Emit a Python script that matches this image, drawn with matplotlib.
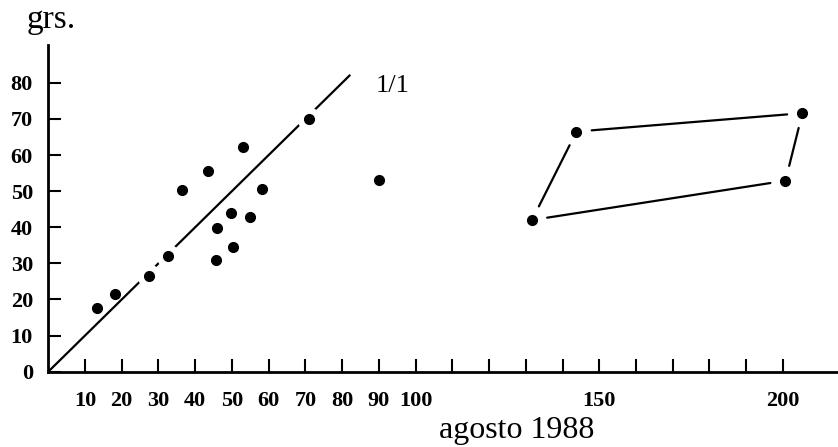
import numpy as np
import matplotlib.pyplot as plt

plt.rcParams['font.family'] = ['Liberation Serif', 'DejaVu Serif']

# individual weights (grs.) read against the August 1988 values
pair_x = [13.4, 18.2, 27.5, 32.5, 36.5, 43.4, 53.0, 71.1, 90.1,
          58.2, 49.8, 55.0, 45.9, 50.2, 45.6]
pair_y = [17.5, 21.4, 26.5, 32.1, 50.3, 55.7, 62.3, 70.1, 53.1,
          50.7, 43.9, 42.9, 39.7, 34.6, 30.9]

# closed group on the right, joined in this order
loop_x = [131.7, 143.8, 205.3, 200.7]
loop_y = [42.0, 66.5, 71.6, 52.9]

x_ticks = list(range(10, 201, 10))
x_labeled = list(range(10, 101, 10)) + [150, 200]
y_ticks = list(range(0, 81, 10))
line_end = 82

fig = plt.figure(figsize=(8.38, 4.47), dpi=100)
ax = fig.add_axes([0.0576, 0.1685, 0.9424, 0.731])
ax.set_xlim(0, 215)
ax.set_ylim(0, 90.5)

for side in ('top', 'right'):
    ax.spines[side].set_visible(False)
for side in ('left', 'bottom'):
    ax.spines[side].set_linewidth(2)

ax.set_xticks(x_ticks)
ax.set_xticklabels([str(v) if v in x_labeled else '' for v in x_ticks])
ax.set_yticks(y_ticks)
ax.set_yticklabels([str(v) for v in y_ticks])
ax.tick_params(direction='in', length=9.5, width=1.5, labelsize=16)
ax.tick_params(axis='x', pad=14)
ax.tick_params(axis='y', pad=11)
for lbl in ax.get_xticklabels() + ax.get_yticklabels():
    lbl.set_fontweight('bold')

# 1/1 reference line, broken where points sit on it
ax.plot([0, line_end], [0, line_end], color='black', lw=1.6, zorder=2)
px = np.array(pair_x)
py = np.array(pair_y)
on_line = np.abs(py - px) < 1.5
ax.plot(px[on_line], py[on_line], 'o', ms=16, color='white', zorder=3)
ax.plot(px, py, 'o', ms=7, color='black', zorder=4)
ax.text(89, 77.5, '1/1', fontsize=19)

# loop segments stop short of the points
n = len(loop_x)
for i in range(n):
    j = (i + 1) % n
    ax.annotate('', xy=(loop_x[j], loop_y[j]), xytext=(loop_x[i], loop_y[i]),
                arrowprops=dict(arrowstyle='-', lw=1.6, color='black',
                                shrinkA=11, shrinkB=11))
ax.plot(loop_x, loop_y, 'o', ms=7, color='black', zorder=4)

fig.text(0.032, 0.937, 'grs.', fontsize=24)
fig.text(0.616, 0.038, 'agosto 1988', ha='center', va='center', fontsize=23)

fig.savefig('out.png', dpi=100)
